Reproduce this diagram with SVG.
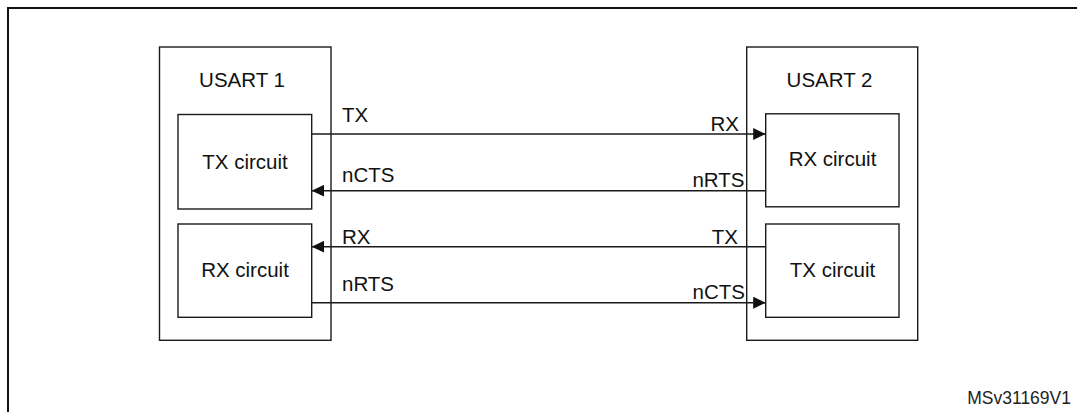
<svg xmlns="http://www.w3.org/2000/svg" width="1077" height="412" viewBox="0 0 1077 412">
<style>
  .box { fill: none; stroke: #1a1a1a; stroke-width: 1.4; }
  .frame { fill: none; stroke: #111; stroke-width: 2; }
  .wire { fill: none; stroke: #1a1a1a; stroke-width: 1.4; }
  .lbl { font-family: "Liberation Sans", Arial, sans-serif; font-size: 20.5px; fill: #111; }
  .sig { font-family: "Liberation Sans", Arial, sans-serif; font-size: 20.5px; fill: #111; }
  .mid { text-anchor: middle; }
  .end { text-anchor: end; }
  .ref { font-family: "Liberation Sans", Arial, sans-serif; font-size: 17.5px; fill: #222; text-anchor: end; }
</style>
<defs>
  <marker id="arr" markerWidth="13" markerHeight="12" refX="12.5" refY="6" orient="auto" markerUnits="userSpaceOnUse">
    <path d="M0,0 L12.5,6 L0,12 Z" fill="#111"/>
  </marker>
</defs>
<rect width="1077" height="412" fill="#fff"/>
<path class="frame" d="M8,420 L8,8 L1085,8"/>

<g id="usart1">
  <rect class="box" x="159.5" y="47" width="171.5" height="293.3"/>
  <text class="lbl mid" x="242" y="87">USART 1</text>
</g>
<g id="usart1-tx">
  <rect class="box" x="178" y="114.5" width="133.7" height="94.5"/>
  <text class="lbl mid" x="245" y="169">TX circuit</text>
</g>
<g id="usart1-rx">
  <rect class="box" x="178" y="224" width="133.7" height="93.3"/>
  <text class="lbl mid" x="245" y="277">RX circuit</text>
</g>

<g id="usart2">
  <rect class="box" x="746.7" y="47" width="171" height="293.3"/>
  <text class="lbl mid" x="829.5" y="87">USART 2</text>
</g>
<g id="usart2-rx">
  <rect class="box" x="765.7" y="113.8" width="133.3" height="93"/>
  <text class="lbl mid" x="832.5" y="166">RX circuit</text>
</g>
<g id="usart2-tx">
  <rect class="box" x="765.7" y="224" width="133.3" height="93.3"/>
  <text class="lbl mid" x="832.5" y="277">TX circuit</text>
</g>

<g id="connectors">
  <line class="wire" x1="311.7" y1="134" x2="765.7" y2="134" marker-end="url(#arr)"/>
  <line class="wire" x1="765.7" y1="190.7" x2="311.7" y2="190.7" marker-end="url(#arr)"/>
  <line class="wire" x1="765.7" y1="246.7" x2="311.7" y2="246.7" marker-end="url(#arr)"/>
  <line class="wire" x1="311.7" y1="302.7" x2="765.7" y2="302.7" marker-end="url(#arr)"/>
  <text class="sig" x="342" y="122">TX</text>
  <text class="sig" x="342" y="182">nCTS</text>
  <text class="sig" x="342" y="244">RX</text>
  <text class="sig" x="342" y="291">nRTS</text>
  <text class="sig end" x="739" y="131">RX</text>
  <text class="sig end" x="744.5" y="187">nRTS</text>
  <text class="sig end" x="738" y="243.5">TX</text>
  <text class="sig end" x="745" y="299">nCTS</text>
</g>

<text class="ref" x="1071" y="404">MSv31169V1</text>
</svg>
